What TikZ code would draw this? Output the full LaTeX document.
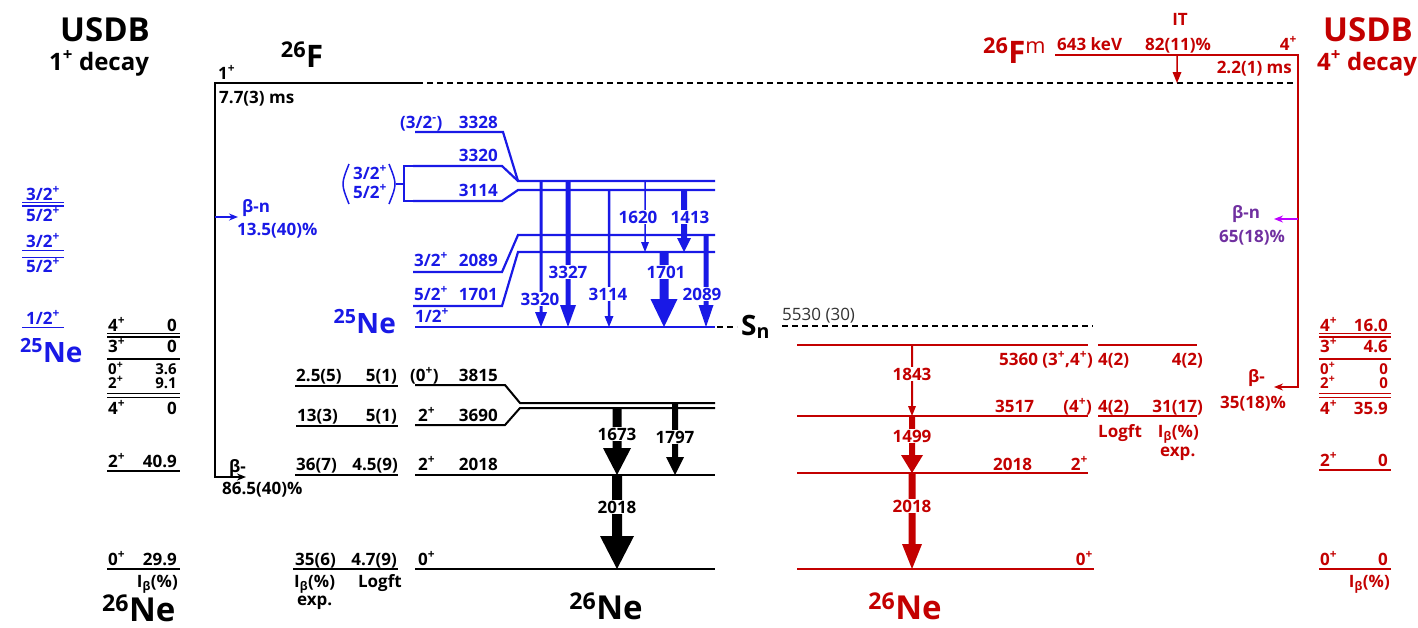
\documentclass[tikz,border=0pt]{standalone}
\usepackage{fontspec}
\setmainfont{Open Sans}
\usetikzlibrary{arrows.meta}
\definecolor{nblue}{RGB}{25,25,230}
\definecolor{nred}{RGB}{195,0,0}
\definecolor{npurple}{RGB}{112,48,160}
\definecolor{nmag}{RGB}{190,0,255}
% #1 x, #2 y top, #3 y bottom, #4 shaft width, #5 head width, #6 head length, #7 colour
\newcommand{\gamarrow}[7]{%
  \fill[#7] ({#1-#4/2},#2) -- ({#1+#4/2},#2) -- ({#1+#4/2},{#3-#6}) -- ({#1+#5/2},{#3-#6})
    -- (#1,#3) -- ({#1-#5/2},{#3-#6}) -- ({#1-#4/2},{#3-#6}) -- cycle;}
\begin{document}
\begin{tikzpicture}[x=1pt,y=-1pt,
  lab/.style={inner sep=0pt, font=\bfseries\fontsize{17}{20}\selectfont},
  labs/.style={inner sep=0pt, font=\bfseries\fontsize{15}{16}\selectfont},
  labb/.style={lab, text=nblue},
  labr/.style={lab, text=nred},
  bigf/.style={inner sep=0pt, font=\bfseries\fontsize{33}{36}\selectfont},
  midf/.style={inner sep=0pt, font=\bfseries\fontsize{24}{27}\selectfont},
  nucf/.style={inner sep=0pt, font=\bfseries\fontsize{31}{34}\selectfont},
  nef/.style={inner sep=0pt, font=\bfseries\fontsize{28}{32}\selectfont},
  nebig/.style={inner sep=0pt, font=\bfseries\fontsize{33}{36}\selectfont},
  glab/.style={lab, fill=white, inner sep=1pt},
  lv/.style={line width=2pt},
  dlv/.style={line width=1.6pt},
  blv/.style={line width=2.2pt, draw=nblue},
  rlv/.style={line width=2pt, draw=nred},
  vl/.style={line width=2.5pt},
  dsh/.style={line width=2pt, dash pattern=on 6pt off 4pt},
  btip/.style={-{Stealth[length=9pt,width=7pt]}, line width=1.5pt},
]
\useasboundingbox (0,0) rectangle (1418,627);

% ================= top left / 26F
\node[bigf,anchor=base] (usdbL) at (105,41) {USDB};
\node[midf,anchor=base] (decL) at (99,70) {1\textsuperscript{+} decay};
\node[nucf,anchor=base] (fN) at (302,67) {\textsuperscript{26}F};
\node[lab,anchor=base west] (fJ) at (218,79) {1\textsuperscript{+}};
\node[lab,anchor=base west] (fT) at (219,103) {7.7(3) ms};
\draw[lv] (215,83) -- (417,83);
\draw[dsh] (417,83) -- (1298,83);
\draw[vl] (215,82) -- (215,478);
\draw[btip] (215,477) -- (246,477);
\node[lab,anchor=base west] (bm) at (229,472) {β-};
\node[lab,anchor=base west] (bmI) at (222,494) {86.5(40)\%};
\draw[btip,draw=nblue,fill=nblue] (215,217) -- (238,217);
\node[labb,anchor=base west] (bn) at (242,212) {β-n};
\node[labb,anchor=base west] (bnI) at (237,235) {13.5(40)\%};

% ================= left USDB 25Ne (blue)
\node[labb,anchor=base] (u1) at (43,200) {3/2\textsuperscript{+}};
\draw[blv,line width=1.6pt] (22,202.5) -- (64,202.5);
\draw[blv,line width=1.6pt] (22,206) -- (64,206);
\node[labb,anchor=base] (u2) at (43,221) {5/2\textsuperscript{+}};
\node[labb,anchor=base] (u3) at (43,247) {3/2\textsuperscript{+}};
\draw[blv,line width=1.8pt] (22,250.5) -- (64,250.5);
\draw[blv,line width=1.8pt] (22,257.5) -- (64,257.5);
\node[labb,anchor=base] (u4) at (43,272) {5/2\textsuperscript{+}};
\node[labb,anchor=base] (u5) at (43,324) {1/2\textsuperscript{+}};
\draw[blv,line width=1.8pt] (22,327.5) -- (64,327.5);
\node[nef,text=nblue,anchor=base west] (ne25L) at (20,362) {\textsuperscript{25}Ne};

% ================= left USDB 26Ne (black)
\node[lab,anchor=base west] (k1) at (108,331) {4\textsuperscript{+}};
\node[lab,anchor=base east] (k1v) at (177,331) {0};
\draw[dlv] (107,333.5) -- (180,333.5);
\draw[dlv] (107,337) -- (180,337);
\node[lab,anchor=base west] (k2) at (108,352) {3\textsuperscript{+}};
\node[lab,anchor=base east] (k2v) at (177,352) {0};
\draw[lv] (107,358.5) -- (180,358.5);
\node[labs,anchor=base west] (k3) at (108,374) {0\textsuperscript{+}};
\node[labs,anchor=base east] (k3v) at (177,374) {3.6};
\node[labs,anchor=base west] (k4) at (108,388) {2\textsuperscript{+}};
\node[labs,anchor=base east] (k4v) at (177,388) {9.1};
\draw[dlv] (107,393.5) -- (180,393.5);
\draw[dlv] (107,397.5) -- (180,397.5);
\node[lab,anchor=base west] (k5) at (108,414) {4\textsuperscript{+}};
\node[lab,anchor=base east] (k5v) at (177,414) {0};
\node[lab,anchor=base west] (k6) at (108,467) {2\textsuperscript{+}};
\node[lab,anchor=base east] (k6v) at (177,467) {40.9};
\draw[lv] (107,471) -- (180,471);
\node[lab,anchor=base west] (k7) at (108,565) {0\textsuperscript{+}};
\node[lab,anchor=base east] (k7v) at (177,565) {29.9};
\draw[lv] (107,569) -- (180,569);
\node[lab,anchor=base east] (k7i) at (178,587) {I\textsubscript{β}(\%)};
\node[nebig,anchor=base west] (ne26L) at (102,621) {\textsuperscript{26}Ne};

% ================= 25Ne levels (blue)
\draw[blv] (415,132) -- (503,132) -- (518,181) -- (715,181);
\draw[blv] (413,166) -- (502,166) -- (518,181);
\draw[blv] (413,201) -- (502,201) -- (518,190) -- (715,190);
\draw[blv] (413,272) -- (502,272) -- (518,235) -- (715,235);
\draw[blv] (413,306) -- (502,306) -- (518,252) -- (715,252);
\draw[blv] (415,327) -- (715,327);
\draw[blv,line width=1.5pt] (413,166) -- (404,166) -- (404,201) -- (413,201);
\draw[blv,line width=1.5pt] (396,184) -- (404,184);
\draw[blv,line width=1.5pt] (349,164) .. controls (341,184) .. (349,204);
\draw[blv,line width=1.5pt] (389,164) .. controls (397,184) .. (389,204);
\node[labb,anchor=base west] (j3328) at (400,128) {(3/2\textsuperscript{-})};
\node[labb,anchor=base east] (e3328) at (498,128) {3328};
\node[labb,anchor=base east] (e3320) at (498,161) {3320};
\node[labb,anchor=base east] (e3114) at (498,196) {3114};
\node[labb,anchor=base west] (jb1) at (353,179) {3/2\textsuperscript{+}};
\node[labb,anchor=base west] (jb2) at (353,198) {5/2\textsuperscript{+}};
\node[labb,anchor=base west] (j2089) at (414,266) {3/2\textsuperscript{+}};
\node[labb,anchor=base east] (e2089) at (498,266) {2089};
\node[labb,anchor=base west] (j1701) at (414,300) {5/2\textsuperscript{+}};
\node[labb,anchor=base east] (e1701) at (498,300) {1701};
\node[labb,anchor=base west] (j0) at (415,322) {1/2\textsuperscript{+}};
\node[nef,text=nblue,anchor=base east] (ne25) at (396,333) {\textsuperscript{25}Ne};

% blue gammas
\gamarrow{541}{181}{327}{3}{12}{15}{nblue}
\gamarrow{568}{181}{327}{5}{16}{22}{nblue}
\gamarrow{609}{190}{327}{2.5}{9}{11}{nblue}
\gamarrow{645}{181}{252}{1.5}{8}{10}{nblue}
\gamarrow{684}{190}{252}{6}{14}{14}{nblue}
\gamarrow{664}{252}{327}{9}{27}{28}{nblue}
\gamarrow{706}{235}{327}{5}{15}{22}{nblue}
\node[glab,text=nblue,anchor=base] (g3320) at (540,305) {3320};
\node[glab,text=nblue,anchor=base] (g3327) at (568,278) {3327};
\node[glab,text=nblue,anchor=base] (g3114) at (608,300) {3114};
\node[glab,text=nblue,anchor=base] (g1620) at (638,223) {1620};
\node[glab,text=nblue,anchor=base] (g1413) at (690,223) {1413};
\node[glab,text=nblue,anchor=base] (g1701) at (666,278) {1701};
\node[glab,text=nblue,anchor=base] (g2089) at (702,300) {2089};

% ================= Sn
\draw[dsh,line width=1.8pt] (717,327) -- (737,327);
\node[nef,anchor=base west] (sn) at (741,335) {S\textsubscript{n}};
\draw[dsh,line width=1.8pt] (782,326) -- (1093,326);
\node[inner sep=0pt,font=\fontsize{17}{20}\selectfont,text=black!80,anchor=base west] (snv) at (782,320) {5530 (30)};

% ================= 26Ne levels (black, experiment)
\draw[lv] (415,385) -- (505,385) -- (520,403) -- (715,403);
\draw[lv] (415,425) -- (505,425) -- (520,408) -- (715,408);
\draw[lv] (415,475) -- (715,475);
\draw[lv] (415,569) -- (715,569);
\draw[lv] (295,386) -- (398,386);
\draw[lv] (296,426) -- (398,426);
\draw[lv] (295,475) -- (398,475);
\draw[lv] (293,569) -- (398,569);
\node[lab,anchor=base west] (c1a) at (296,381) {2.5(5)};
\node[lab,anchor=base east] (c1b) at (397,381) {5(1)};
\node[lab,anchor=base west] (c2a) at (297,421) {13(3)};
\node[lab,anchor=base east] (c2b) at (397,421) {5(1)};
\node[lab,anchor=base west] (c3a) at (296,470) {36(7)};
\node[lab,anchor=base east] (c3b) at (398,470) {4.5(9)};
\node[lab,anchor=base west] (c4a) at (295,565) {35(6)};
\node[lab,anchor=base east] (c4b) at (397,565) {4.7(9)};
\node[lab,anchor=base west] (ch1) at (294,587) {I\textsubscript{β}(\%)};
\node[lab,anchor=base east] (ch2) at (402,587) {Logft};
\node[lab,anchor=base west] (ch3) at (297,605) {exp.};
\node[lab,anchor=base west] (l3815j) at (410,381) {(0\textsuperscript{+})};
\node[lab,anchor=base east] (l3815) at (498,381) {3815};
\node[lab,anchor=base west] (l3690j) at (418,421) {2\textsuperscript{+}};
\node[lab,anchor=base east] (l3690) at (498,421) {3690};
\node[lab,anchor=base west] (l2018j) at (418,470) {2\textsuperscript{+}};
\node[lab,anchor=base east] (l2018) at (498,470) {2018};
\node[lab,anchor=base west] (l0j) at (418,565) {0\textsuperscript{+}};
\node[nebig,anchor=base] (ne26) at (606,619) {\textsuperscript{26}Ne};
\gamarrow{617}{408}{475}{9}{28}{27}{black}
\gamarrow{675}{403}{475}{6}{18}{18}{black}
\gamarrow{617}{475}{569}{10}{34}{33}{black}
\node[glab,anchor=base] (g1673) at (617,440) {1673};
\node[glab,anchor=base] (g1797) at (675,443) {1797};
\node[glab,anchor=base] (g2018) at (617,513) {2018};

% ================= 26Fm (red)
\node[nucf,text=nred,anchor=base west] (fmN) at (983,63) {\textsuperscript{26}F\textsuperscript{\mdseries m}};
\node[labr,anchor=base west] (fmE) at (1057,50) {643 keV};
\node[labr,anchor=base] (fmIT) at (1180,25) {IT};
\node[labr,anchor=base west] (fmITp) at (1145,50) {82(11)\%};
\node[labr,anchor=base east] (fmJ) at (1297,50) {4\textsuperscript{+}};
\node[labr,anchor=base east] (fmT) at (1292,73) {2.2(1) ms};
\draw[rlv] (1055,55) -- (1298,55);
\draw[vl,draw=nred] (1298,54) -- (1298,388);
\gamarrow{1177}{55}{83}{1.5}{9}{11}{nred}
\draw[btip,draw=nmag] (1298,219) -- (1274,219);
\node[lab,text=npurple,anchor=base west] (rbn) at (1232,218) {β-n};
\node[lab,text=npurple,anchor=base east] (rbnI) at (1285,242) {65(18)\%};
\draw[btip,draw=nred] (1298,387) -- (1274,387);
\node[labr,anchor=base west] (rbm) at (1248,382) {β-};
\node[labr,anchor=base east] (rbmI) at (1286,408) {35(18)\%};
\node[bigf,text=nred,anchor=base] (usdbR) at (1368,41) {USDB};
\node[midf,text=nred,anchor=base] (decR) at (1367,70) {4\textsuperscript{+} decay};

% ================= 26Ne from 4+ (red, experiment)
\draw[rlv] (797,345) -- (1088,345);
\draw[rlv] (1098,345) -- (1197,345);
\draw[rlv] (797,416) -- (1088,416);
\draw[rlv] (1098,416) -- (1197,416);
\draw[rlv] (797,473) -- (1088,473);
\draw[rlv] (797,569) -- (1094,569);
\node[labr,anchor=base east] (r5360) at (1093,365) {5360 (3\textsuperscript{+},4\textsuperscript{+})};
\node[labr,anchor=base west] (r5360a) at (1098,365) {4(2)};
\node[labr,anchor=base east] (r5360b) at (1203,365) {4(2)};
\node[labr,anchor=base west] (r3517) at (995,412) {3517};
\node[labr,anchor=base east] (r3517j) at (1092,412) {(4\textsuperscript{+})};
\node[labr,anchor=base west] (r3517a) at (1098,412) {4(2)};
\node[labr,anchor=base east] (r3517b) at (1203,412) {31(17)};
\node[labr,anchor=base west] (rh1) at (1098,437) {Logft};
\node[labr,anchor=base east] (rh2) at (1199,437) {I\textsubscript{β}(\%)};
\node[labr,anchor=base west] (rh3) at (1160,456) {exp.};
\node[labr,anchor=base west] (r2018) at (993,470) {2018};
\node[labr,anchor=base east] (r2018j) at (1088,470) {2\textsuperscript{+}};
\node[labr,anchor=base east] (r0j) at (1093,565) {0\textsuperscript{+}};
\gamarrow{912}{345}{416}{2}{8}{10}{nred}
\gamarrow{912}{416}{473}{6}{22}{18}{nred}
\gamarrow{912}{473}{569}{7}{20}{25}{nred}
\node[glab,text=nred,anchor=base] (rg1843) at (912,380) {1843};
\node[glab,text=nred,anchor=base] (rg1499) at (912,442) {1499};
\node[glab,text=nred,anchor=base] (rg2018) at (912,512) {2018};
\node[nebig,text=nred,anchor=base] (ne26R) at (905,619) {\textsuperscript{26}Ne};

% ================= right USDB 26Ne (red)
\node[labr,anchor=base west] (q1) at (1320,331) {4\textsuperscript{+}};
\node[labr,anchor=base east] (q1v) at (1388,331) {16.0};
\draw[rlv,line width=1.6pt] (1319,333.5) -- (1391,333.5);
\draw[rlv,line width=1.6pt] (1319,337) -- (1391,337);
\node[labr,anchor=base west] (q2) at (1320,352) {3\textsuperscript{+}};
\node[labr,anchor=base east] (q2v) at (1388,352) {4.6};
\draw[rlv] (1319,358.5) -- (1391,358.5);
\node[labs,text=nred,anchor=base west] (q3) at (1320,374) {0\textsuperscript{+}};
\node[labs,text=nred,anchor=base east] (q3v) at (1388,374) {0};
\node[labs,text=nred,anchor=base west] (q4) at (1320,388) {2\textsuperscript{+}};
\node[labs,text=nred,anchor=base east] (q4v) at (1388,388) {0};
\draw[rlv,line width=1.6pt] (1319,393.5) -- (1391,393.5);
\draw[rlv,line width=1.6pt] (1319,397.5) -- (1391,397.5);
\node[labr,anchor=base west] (q5) at (1320,414) {4\textsuperscript{+}};
\node[labr,anchor=base east] (q5v) at (1388,414) {35.9};
\node[labr,anchor=base west] (q6) at (1320,466) {2\textsuperscript{+}};
\node[labr,anchor=base east] (q6v) at (1388,466) {0};
\draw[rlv] (1319,470) -- (1391,470);
\node[labr,anchor=base west] (q7) at (1320,565) {0\textsuperscript{+}};
\node[labr,anchor=base east] (q7v) at (1388,565) {0};
\draw[rlv] (1319,569) -- (1391,569);
\node[labr,anchor=base east] (q7i) at (1390,587) {I\textsubscript{β}(\%)};
\end{tikzpicture}
\end{document}
